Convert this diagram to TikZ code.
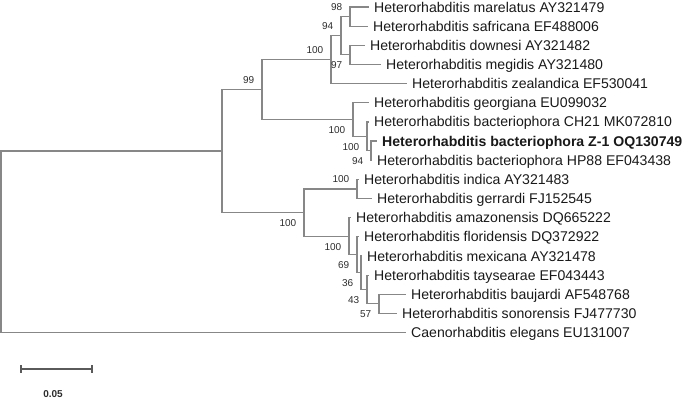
\documentclass[tikz,border=0pt]{standalone}
\usepackage{fontspec}
\setmainfont{Liberation Sans}
\definecolor{brc}{RGB}{135,135,135}
\definecolor{txt}{RGB}{25,25,25}
\definecolor{bsc}{RGB}{45,45,45}
\definecolor{sbc}{RGB}{90,90,90}
\begin{document}
\begin{tikzpicture}[x=1pt,y=-1pt,
  br/.style={draw=brc, line width=1.2pt},
  leaf/.style={anchor=base west, inner sep=0pt, xshift=5pt, yshift=-5.05pt,
    font=\fontsize{14.1}{16}\selectfont, text=txt},
  bs/.style={anchor=east, inner sep=0pt, xshift=-7.5pt,
    font=\fontsize{10}{12}\selectfont, text=bsc},
  bsa/.style={bs, yshift=9.5pt},
  bsb/.style={bs, yshift=-10.5pt}]
\useasboundingbox (0,0) rectangle (685,402);

% internal nodes
\coordinate (R) at (1,241.8);
\coordinate (B) at (222,151.07);
\coordinate (C) at (262,89.58);
\coordinate (E) at (331,59.66);
\coordinate (G) at (341,35.725);
\coordinate (N98) at (350,16.575);
\coordinate (N97) at (350,54.875);
\coordinate (F) at (353,119.5);
\coordinate (H) at (367,136.26);
\coordinate (I) at (371,150.625);
\coordinate (D) at (304,212.56);
\coordinate (J) at (357,188.925);
\coordinate (K) at (349,236.2);
\coordinate (L) at (357,254.75);
\coordinate (M) at (361,272.7);
\coordinate (N) at (367,289.46);
\coordinate (O) at (379,303.825);

% leaf tips
\coordinate (t1) at (369,7);
\coordinate (t2) at (368,26.15);
\coordinate (t3) at (365,45.3);
\coordinate (t4) at (381,64.45);
\coordinate (t5) at (407,83.6);
\coordinate (t6) at (369,102.75);
\coordinate (t7) at (369,121.9);
\coordinate (t8) at (377,141.05);
\coordinate (t9) at (372,160.2);
\coordinate (t10) at (359,179.35);
\coordinate (t11) at (372,198.5);
\coordinate (t12) at (351,217.65);
\coordinate (t13) at (359,236.8);
\coordinate (t14) at (362,255.95);
\coordinate (t15) at (369,275.1);
\coordinate (t16) at (406,294.25);
\coordinate (t17) at (397,313.4);
\coordinate (t18) at (406,332.55);

% branches
\draw[br] (R) |- (B);
\draw[br] (R) |- (t18);
\draw[br] (B) |- (C);
\draw[br] (B) |- (D);
\draw[br] (C) |- (E);
\draw[br] (C) |- (F);
\draw[br] (E) |- (G);
\draw[br] (E) |- (t5);
\draw[br] (G) |- (N98);
\draw[br] (G) |- (N97);
\draw[br] (N98) |- (t1);
\draw[br] (N98) |- (t2);
\draw[br] (N97) |- (t3);
\draw[br] (N97) |- (t4);
\draw[br] (F) |- (t6);
\draw[br] (F) |- (H);
\draw[br] (H) |- (t7);
\draw[br] (H) |- (I);
\draw[br] (I) |- (t8);
\draw[br] (I) |- (t9);
\draw[br] (D) |- (J);
\draw[br] (D) |- (K);
\draw[br] (J) |- (t10);
\draw[br] (J) |- (t11);
\draw[br] (K) |- (t12);
\draw[br] (K) |- (L);
\draw[br] (L) |- (t13);
\draw[br] (L) |- (M);
\draw[br] (M) |- (t14);
\draw[br] (M) |- (N);
\draw[br] (N) |- (t15);
\draw[br] (N) |- (O);
\draw[br] (O) |- (t16);
\draw[br] (O) |- (t17);

% leaf labels
\node[leaf] (l1) at (t1) {Heterorhabditis marelatus AY321479};
\node[leaf] (l2) at (t2) {Heterorhabditis safricana EF488006};
\node[leaf] (l3) at (t3) {Heterorhabditis downesi AY321482};
\node[leaf] (l4) at (t4) {Heterorhabditis megidis AY321480};
\node[leaf] (l5) at (t5) {Heterorhabditis zealandica EF530041};
\node[leaf] (l6) at (t6) {Heterorhabditis georgiana EU099032};
\node[leaf] (l7) at (t7) {Heterorhabditis bacteriophora CH21 MK072810};
\node[leaf, font=\fontsize{14.1}{16}\selectfont\bfseries] (l8) at (t8) {Heterorhabditis bacteriophora Z-1 OQ130749};
\node[leaf] (l9) at (t9) {Heterorhabditis bacteriophora HP88 EF043438};
\node[leaf] (l10) at (t10) {Heterorhabditis indica AY321483};
\node[leaf] (l11) at (t11) {Heterorhabditis gerrardi FJ152545};
\node[leaf] (l12) at (t12) {Heterorhabditis amazonensis DQ665222};
\node[leaf] (l13) at (t13) {Heterorhabditis floridensis DQ372922};
\node[leaf] (l14) at (t14) {Heterorhabditis mexicana AY321478};
\node[leaf] (l15) at (t15) {Heterorhabditis taysearae EF043443};
\node[leaf] (l16) at (t16) {Heterorhabditis baujardi AF548768};
\node[leaf] (l17) at (t17) {Heterorhabditis sonorensis FJ477730};
\node[leaf] (l18) at (t18) {Caenorhabditis elegans EU131007};

% bootstrap values
\node[bsa] (b98) at (N98) {98};
\node[bsa] (b94) at (G) {94};
\node[bsa] (b100e) at (E) {100};
\node[bsb] (b97) at (N97) {97};
\node[bsa] (b99) at (C) {99};
\node[bsb] (b100f) at (F) {100};
\node[bsb] (b100h) at (H) {100};
\node[bsb] (b94i) at (I) {94};
\node[bsa] (b100j) at (J) {100};
\node[bsb] (b100d) at (D) {100};
\node[bsb] (b100k) at (K) {100};
\node[bsb] (b69) at (L) {69};
\node[bsb] (b36) at (M) {36};
\node[bsb] (b43) at (N) {43};
\node[bsb] (b57) at (O) {57};

% scale bar
\coordinate (s1) at (21,369);
\coordinate (s2) at (92,369);
\draw[draw=sbc, line width=1.1pt] (s1) -- (s2);
\draw[draw=sbc, line width=1.1pt] ([yshift=4pt]s1) -- ([yshift=-4pt]s1);
\draw[draw=sbc, line width=1.1pt] ([yshift=4pt]s2) -- ([yshift=-4pt]s2);
\node[font=\fontsize{10}{12}\selectfont\bfseries, text=bsc, inner sep=0pt] (sl) at (53,394) {0.05};
\end{tikzpicture}
\end{document}
